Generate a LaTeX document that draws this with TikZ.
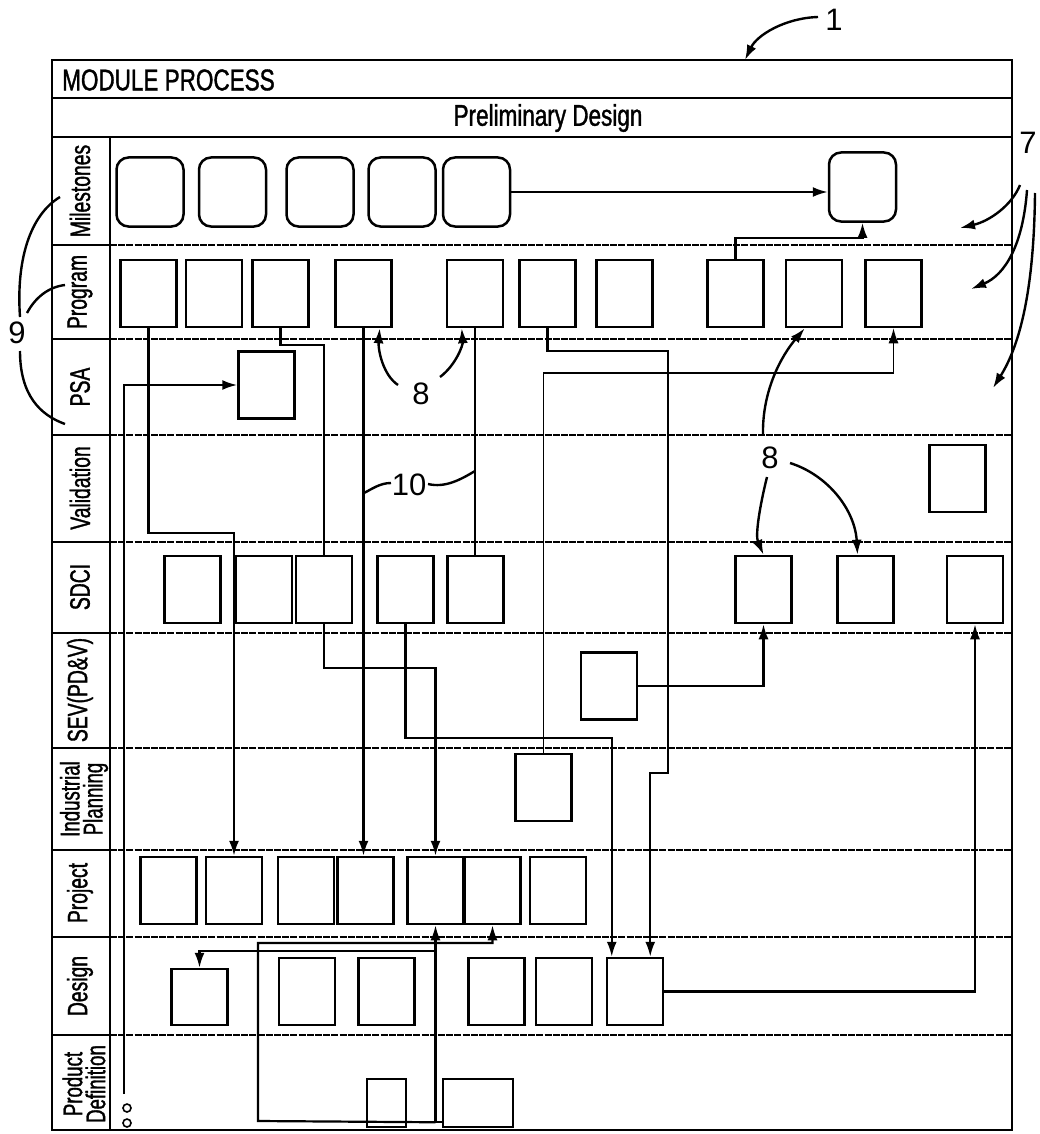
\documentclass[tikz,border=0pt]{standalone}
\usepackage{fontspec}
\setmainfont{Liberation Sans}
\newfontfamily\headfont[FakeStretch=0.75,FakeBold=1.2]{Liberation Sans}
\newfontfamily\lanefont[FakeStretch=0.69,FakeBold=1.2]{Liberation Sans}
\usetikzlibrary{calc, arrows.meta}

\tikzset{
  task/.style={draw, line width=2.5pt, inner sep=0pt, minimum width=56pt, minimum height=67pt},
  mile/.style={task, rounded corners=12pt, minimum width=67pt, minimum height=69pt},
  link/.style={line width=2.2pt},
  thinlink/.style={line width=1.3pt},
  callout/.style={line width=2.4pt},
  lane/.style={line width=1.7pt, dash pattern=on 7pt off 1.2pt},
  lanename/.style={rotate=90, inner sep=0pt, font=\lanefont\fontsize{28}{28}\selectfont},
  refnum/.style={inner sep=1pt, font=\fontsize{31}{31}\selectfont}
}

\begin{document}
\begin{tikzpicture}[x=1pt,y=-1pt,>={Latex[length=15pt,width=10pt]}]
\useasboundingbox (0,0) rectangle (1040,1134);

\draw[line width=2.8pt] (52,60) rectangle (1012,1130);
\draw[line width=2.4pt] (52,98) -- (1012,98);
\draw[line width=2.4pt] (52,137) -- (1012,137);
\draw[line width=2.4pt] (110,137) -- (110,1130);
\node[anchor=west, inner sep=0pt, font=\headfont\fontsize{30}{30}\selectfont] (title) at (62,80) {MODULE PROCESS};
\node[inner sep=0pt, font=\headfont\fontsize{30}{30}\selectfont] (phase) at (548,118) {Preliminary Design};

\foreach \y in {245,339,435,542,633,748,850,937,1035} {
  \draw[line width=2.2pt] (52,\y) -- (110,\y);
  \draw[lane] (110,\y) -- (1012,\y);
}

\node[lanename] at (80,191) {Milestones};
\node[lanename] at (80,292) {Program};
\node[lanename] at (80,387) {PSA};
\node[lanename] at (80,488) {Validation};
\node[lanename] at (80,587) {SDCI};
\node[lanename] at (80,690) {SEV(PD\&V)};
\node[lanename, align=center, font=\lanefont\fontsize{27}{23}\selectfont] at (84,799) {Industrial\\Planning};
\node[lanename] at (80,893) {Project};
\node[lanename] at (80,986) {Design};
\node[lanename, align=center, font=\lanefont\fontsize{27}{23}\selectfont] at (84,1084) {Product\\Definition};

% milestones
\node[mile] (m1) at (150,192) {}; \node[mile] (m2) at (232.5,192) {};
\node[mile] (m3) at (320,192) {}; \node[mile] (m4) at (402,192) {};
\node[mile] (m5) at (476.5,192) {}; \node[mile] (m6) at (862.5,187) {};

% program
\node[task] (p1) at (148.5,293.5) {}; \node[task] (p2) at (214,293.5) {};
\node[task] (p3) at (280.5,293.5) {}; \node[task] (p4) at (363.5,293.5) {};
\node[task] (p5) at (475,293.5) {}; \node[task] (p6) at (547.5,293.5) {};
\node[task] (p7) at (624.5,293.5) {}; \node[task] (p8) at (735.5,293.5) {};
\node[task] (p9) at (814,293.5) {}; \node[task] (p10) at (893.5,293.5) {};

\node[task] (psa) at (266.5,385) {};
\node[task] (v1) at (957.5,478.5) {};

% sdci
\node[task] (s1) at (192.5,589.5) {}; \node[task] (s2) at (264,589.5) {};
\node[task] (s3) at (324,589.5) {}; \node[task] (s4) at (405.5,589.5) {};
\node[task] (s5) at (475.5,589.5) {}; \node[task] (s6) at (763.5,589.5) {};
\node[task] (s7) at (865.5,589.5) {}; \node[task] (s8) at (975,589.5) {};

\node[task] (sev) at (609,686) {};
\node[task] (ind) at (543.5,787.5) {};

% project
\node[task] (pj1) at (168.5,890.5) {}; \node[task] (pj2) at (234,890.5) {};
\node[task] (pj3) at (306,890.5) {}; \node[task] (pj4) at (365.5,890.5) {};
\node[task] (pj5) at (435.5,890.5) {}; \node[task] (pj6) at (492.5,890.5) {};
\node[task] (pj7) at (558,890.5) {};

% design
\node[task, minimum height=56pt] (d1) at (199.5,997) {};
\node[task] (d2) at (307,991.5) {}; \node[task] (d3) at (386.5,991.5) {};
\node[task] (d4) at (496.5,991.5) {}; \node[task] (d5) at (564,991.5) {};
\node[task] (d6) at (635,991.5) {};

% product definition
\node[task, minimum width=39pt, minimum height=48pt] (pd1) at (386.5,1103) {};
\node[task, minimum width=70pt, minimum height=48pt] (pd2) at (478,1103) {};

\draw[line width=1.6pt] (127,1108) circle (4pt);
\draw[line width=1.6pt] (127,1123) circle (4pt);
\coordinate (dots) at (124,1094);

% connectors
\draw[link,->] (m5.east) -- (m5.east -| m6.west);
\draw[link,->] (p8.north) |- (m6.south |- 0,238) -- (m6.south);
\draw[link,->] (dots) |- (psa.west);
\draw[link,->] (p1.south) |- (pj2.north |- 0,533) -- (pj2.north);
\draw[link] (p3.south) |- (s3.north |- 0,345) -- (s3.north);
\draw[link,->] (p4.south) -- (p4.south |- pj4.north);
\draw[link] (p5.south) -- (p5.south |- s5.north);
\draw[link,->] (s3.south) |- (pj5.north |- 0,668) -- (pj5.north);
\coordinate (d6a) at ($(d6.north west)+(6,0)$);
\coordinate (d6b) at ($(d6.north east)+(-14,0)$);
\draw[link,->] (s4.south) |- (d6a |- 0,738) -- (d6a);
\draw[link,->] (p6.south) |- (668,351) -- (668,773) -| (d6b);
\draw[thinlink,->] (ind.north) |- (p10.south |- 0,373) -- (p10.south);
\draw[link,->] (sev.east) -| (s6.south);
\draw[link,->] (d6.east) -| (s8.south);
\coordinate (pdout) at ($(pd2.south west)+(0,-6)$);
\draw[link,->] (pdout) -| (pj5.south);
\draw[link,->] (pdout -| pj5.south) -- (258,1121) |- (pj6.south |- 0,943) -- (pj6.south);
\draw[link,->] (pj5.south |- 0,951) -| (d1.north);

% reference numerals
\node[refnum] (n1) at (834,20) {1};
\coordinate (t1) at (745,60);
\draw[callout,->] (818,17) .. controls (785,18) and (757,35) .. (t1);

\node[refnum] (n7) at (1028,143) {7};
\coordinate (t7a) at (960,228);
\coordinate (t7b) at (971,289);
\coordinate (t7c) at (993,388);
\draw[callout,->] (1020,185) .. controls (1012,205) and (990,221) .. (t7a);
\draw[callout,->] (1027,190) .. controls (1023,245) and (1005,275) .. (t7b);
\draw[callout,->] (1035,193) .. controls (1034,290) and (1020,345) .. (t7c);

\node[refnum] (n8a) at (421,394) {8};
\draw[callout,->] (398,385) .. controls (383,375) and (378,350) .. ($(p4.south east)+(-13,0)$);
\draw[callout,->] (440,377) .. controls (456,365) and (463,345) .. ($(p5.south west)+(16,0)$);

\node[refnum] (n8b) at (770,458) {8};
\draw[callout,->] (763,435) .. controls (762,390) and (782,355) .. ($(p9.south west)+(20,0)$);
\draw[callout,->] (767,477) .. controls (760,505) and (755,535) .. (s6.north);
\draw[callout,->] (790,463) .. controls (828,475) and (855,510) .. ($(s7.north)+(-8,0)$);

\node[refnum] (n9) at (17,333) {9};
\draw[callout] (20,317) .. controls (16,260) and (30,215) .. (60,197);
\draw[callout] (27,313) .. controls (35,298) and (48,287) .. (65,285);
\draw[callout] (20,351) .. controls (20,395) and (40,415) .. (65,424);

\node[refnum] (n10) at (409,485) {10};
\draw[callout] (391,483) .. controls (380,483) and (372,489) .. (364,493);
\draw[callout] (428,484) .. controls (445,488) and (460,480) .. (475,471);
\end{tikzpicture}
\end{document}
